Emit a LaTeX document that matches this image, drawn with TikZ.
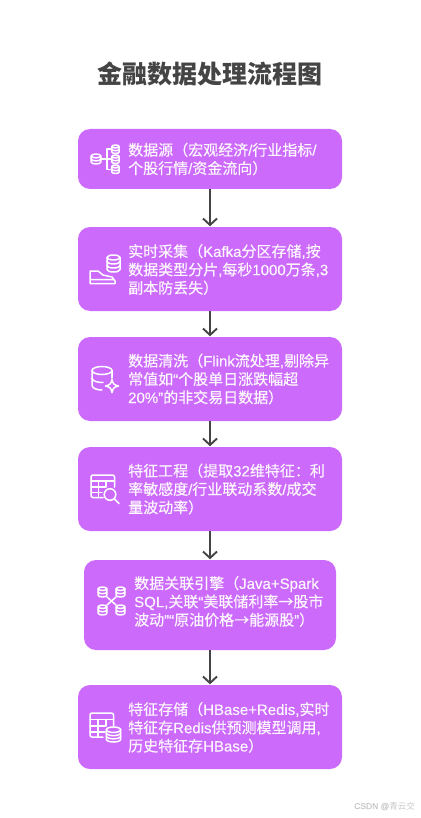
\documentclass[tikz,border=0pt]{standalone}
\usepackage{fontspec}
\setmainfont{Noto Sans CJK SC}
\newfontfamily\flowcjk[FakeBold=0.25]{Noto Sans CJK SC}
\newfontfamily\latfont[FakeBold=0.25]{Liberation Sans}
\newcommand{\LS}[1]{{\latfont #1}}
\usetikzlibrary{arrows.meta}
\definecolor{boxfill}{HTML}{CC6BFB}
\definecolor{inkdark}{HTML}{444444}
\definecolor{wmark}{HTML}{C8C8C8}
\definecolor{softwhite}{HTML}{FDF6FF}
\tikzset{
  flowbox/.style={draw=none,fill=boxfill,rounded corners=12pt,inner sep=0pt,anchor=center},
  flowtext/.style={anchor=west,align=left,inner sep=0pt,text=softwhite,font=\fontsize{15pt}{18.3pt}\flowcjk\selectfont},
  flowarrow/.style={draw=inkdark,line width=2.1pt,-{Straight Barb[length=6.5pt,width=14pt,line width=1.9pt]},shorten >=0.5pt},
  iconline/.style={draw=white,line width=1.5pt,line join=round,line cap=round},
}
% cylinder: cx, top, half width, bottom
\newcommand{\dbicon}[4]{%
  \pgfmathsetmacro{\ry}{#3*0.4}%
  \pgfmathsetmacro{\ytop}{#2+\ry}%
  \pgfmathsetmacro{\ybot}{#4-\ry}%
  \pgfmathsetmacro{\ymid}{(\ytop+\ybot)/2}%
  \draw[iconline] (#1,\ytop) ellipse [x radius=#3,y radius=\ry];
  \draw[iconline] (#1-#3,\ytop) -- (#1-#3,\ybot) arc[start angle=180,end angle=360,x radius=#3,y radius=-\ry] -- (#1+#3,\ytop);
  \draw[iconline] (#1-#3,\ymid) arc[start angle=180,end angle=360,x radius=#3,y radius=-\ry];
}
% cylinder with two bands
\newcommand{\dbicontwo}[4]{%
  \pgfmathsetmacro{\ry}{#3*0.38}%
  \pgfmathsetmacro{\ytop}{#2+\ry}%
  \pgfmathsetmacro{\ybot}{#4-\ry}%
  \pgfmathsetmacro{\yone}{\ytop+(\ybot-\ytop)/3}%
  \pgfmathsetmacro{\ytwo}{\ytop+2*(\ybot-\ytop)/3}%
  \draw[iconline] (#1,\ytop) ellipse [x radius=#3,y radius=\ry];
  \draw[iconline] (#1-#3,\ytop) -- (#1-#3,\ybot) arc[start angle=180,end angle=360,x radius=#3,y radius=-\ry] -- (#1+#3,\ytop);
  \draw[iconline] (#1-#3,\yone) arc[start angle=180,end angle=360,x radius=#3,y radius=-\ry];
  \draw[iconline] (#1-#3,\ytwo) arc[start angle=180,end angle=360,x radius=#3,y radius=-\ry];
}
\begin{document}
\begin{tikzpicture}[x=1pt,y=-1pt]
\useasboundingbox (0,0) rectangle (420,818);
\fill[white] (0,0) rectangle (420,818);
\node[text=inkdark,font=\fontsize{25pt}{30pt}\selectfont\bfseries,inner sep=0pt] (title) at (210,74) {金融数据处理流程图};

\node[flowbox,minimum width=264pt,minimum height=60pt] (b1) at (210,159) {};
\node[flowbox,minimum width=264pt,minimum height=84pt] (b2) at (210,269) {};
\node[flowbox,minimum width=264pt,minimum height=84pt] (b3) at (210,379) {};
\node[flowbox,minimum width=264pt,minimum height=84pt] (b4) at (210,489) {};
\node[flowbox,minimum width=252pt,minimum height=90pt] (b5) at (210,605) {};
\node[flowbox,minimum width=264pt,minimum height=84pt] (b6) at (210,727) {};

\node[flowtext] (t1) at (128,159) {数据源（宏观经济\LS{/}行业指标\LS{/}\\个股行情\LS{/}资金流向）};
\node[flowtext] (t2) at (128,269.5) {实时采集（\LS{Kafka}分区存储\LS{,}按\\数据类型分片\LS{,}每秒\LS{1000}万条\LS{,3}\\副本防丢失）};
\node[flowtext] (t3) at (128,379) {数据清洗（\LS{Flink}流处理\LS{,}剔除异\\常值如\LS{“}个股单日涨跌幅超\\\LS{20\%”}的非交易日数据）};
\node[flowtext] (t4) at (128,489) {特征工程（提取\LS{32}维特征：利\\率敏感度\LS{/}行业联动系数\LS{/}成交\\量波动率）};
\node[flowtext] (t5) at (134,601.5) {数据关联引擎（\LS{Java+Spark}\\\LS{SQL,}关联\LS{“}美联储利率→股市\\波动\LS{”“}原油价格→能源股\LS{”}）};
\node[flowtext] (t6) at (128,727.5) {特征存储（\LS{HBase+Redis,}实时\\特征存\LS{Redis}供预测模型调用\LS{,}\\历史特征存\LS{HBase}）};

\draw[flowarrow] (b1) -- (b2);
\draw[flowarrow] (b2) -- (b3);
\draw[flowarrow] (b3) -- (b4);
\draw[flowarrow] (b4) -- (b5);
\draw[flowarrow] (b5) -- (b6);

% icon 1
\dbicon{96}{154}{4.8}{164}
\dbicon{115.5}{145}{3.6}{153.5}
\dbicon{115.5}{155}{3.6}{163.5}
\dbicon{115.5}{165}{3.6}{173.5}
\draw[iconline] (101,159) -- (111.5,159) (111.5,149) -- (107,149) -- (107,169.5) -- (111.5,169.5);
% icon 2
\dbicontwo{113.5}{255}{6.5}{272}
\draw[iconline] (90,271) -- (98,271) -- (103,275) -- (112,277) -- (115,281) -- (115,283.5) -- (90,283.5) -- cycle (90,279.5) -- (114,279.5);
% icon 3
\draw[iconline] (102,370.5) ellipse [x radius=10,y radius=4];
\draw[iconline] (92,370.5) -- (92,385) .. controls (92,388.5) and (97,390) .. (102,390);
\draw[iconline] (112,370.5) -- (112,378);
\draw[iconline] (92,378.5) .. controls (93,381.5) and (98,382.5) .. (103,382.5);
\draw[iconline] (112,379.5) .. controls (113,384) and (114,385) .. (118.5,386) .. controls (114,387) and (113,388) .. (112,392.5) .. controls (111,388) and (110,387) .. (105.5,386) .. controls (110,385) and (111,384) .. cycle;
% icon 4
\draw[iconline,rounded corners=2pt] (103,497.5) -- (91,497.5) -- (91,475) -- (114.5,475) -- (114.5,487);
\draw[iconline] (91,481) -- (114.5,481) (91,487) -- (105,487) (91,492.5) -- (102,492.5) (98.5,481) -- (98.5,497.5) (106,481) -- (106,487);
\draw[iconline] (110,494.5) circle [radius=5.8];
\draw[iconline] (114.5,499) -- (119,503.5);
% icon 5
\dbicon{102.5}{587}{4.3}{597}
\dbicon{120.5}{587}{4.3}{597}
\dbicon{102.5}{605}{4.3}{615}
\dbicon{120.5}{605}{4.3}{615}
\draw[iconline] (107,597) -- (116,605) (116,597) -- (107,605);
% icon 6
\draw[iconline,rounded corners=2pt] (103,737) -- (90,737) -- (90,713) -- (113.5,713) -- (113.5,726);
\draw[iconline] (90,719.5) -- (113.5,719.5) (90,726) -- (105,726) (90,732) -- (105,732) (98,719.5) -- (98,737) (106,719.5) -- (106,726);
\dbicontwo{113.5}{727}{7.2}{742}

\node[text=wmark,font=\fontsize{8.5pt}{10pt}\selectfont,inner sep=0pt,anchor=east] (wm) at (415,806) {\LS{CSDN @}青云交};
\end{tikzpicture}
\end{document}
